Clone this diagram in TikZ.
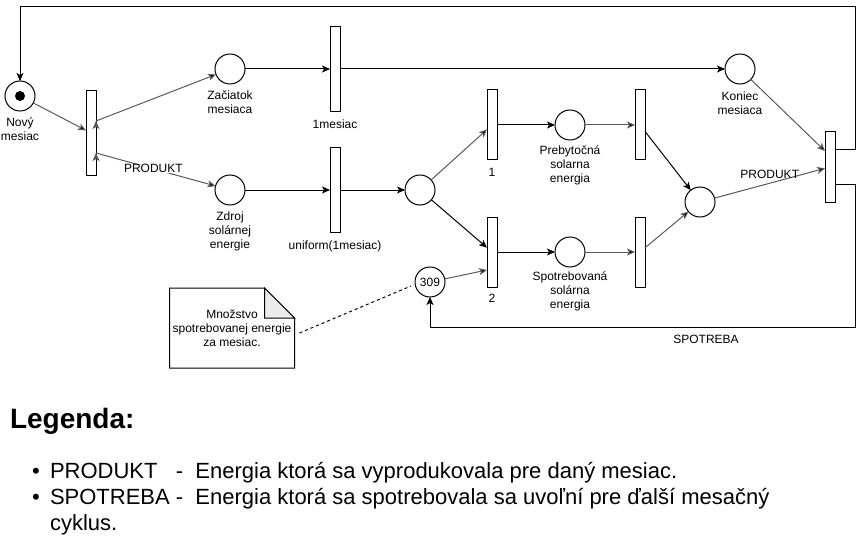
\documentclass[tikz,border=0pt]{standalone}
\usepackage{fontspec}
\setmainfont{Liberation Sans}
\usetikzlibrary{positioning,arrows.meta}

\begin{document}
\begin{tikzpicture}
[x=1pt,y=-1pt,
 every node/.style={font=\fontsize{12}{14}\selectfont,inner sep=0pt,outer sep=0pt},
 place/.style={circle,draw=black,minimum size=30pt},
 trans/.style={rectangle,draw=black,minimum width=10pt,minimum height=70pt},
 tall/.style={trans,minimum height=85pt},
 lbl/.style={align=center},
 arc/.style={-{Stealth[length=8pt,width=7pt,inset=2pt]}},
 garc/.style={arc,draw=black!65},
 big/.style={font=\fontsize{22}{26}\selectfont},
 line width=1pt]
\useasboundingbox (0,0) rectangle (865,559);

\node[place] (novy) at (20,96) {};
\node[circle,fill=black,minimum size=10pt] (tok) at (novy) {};
\node[lbl] (novyL)  [below=7pt of novy] {Nový\\mesiac};
\node[tall]  (tstart) [on grid,below right=37pt and 71pt of novy] {};
\node[place] (zac)    [on grid,above right=64pt and 139pt of tstart] {};
\node[lbl]   (zacL)   [below=7pt of zac] {Začiatok\\mesiaca};
\node[place] (zdroj)  [on grid,below right=57pt and 139pt of tstart] {};
\node[lbl]   (zdrojL) [below=7pt of zdroj] {Zdroj\\solárnej\\energie};
\node[tall]  (tmes)   [on grid,right=105pt of zac] {};
\node[lbl]   (tmesL)  [below=8pt of tmes] {1mesiac};
\node[tall]  (tuni)   [on grid,right=105pt of zdroj] {};
\node[lbl]   (tuniL)  [below=8pt of tuni] {uniform(1mesiac)};
\node[place] (kon)    [on grid,right=405pt of tmes] {};
\node[lbl]   (konL)   [below=8pt of kon] {Koniec\\mesiaca};
\node[place] (mid)    [on grid,right=85pt of tuni] {};
\node[trans] (ta)     [on grid,above right=65pt and 72pt of mid] {};
\node[lbl]   (taL)    [below=8pt of ta] {1};
\node[trans] (tb)     [on grid,below right=62pt and 72pt of mid] {};
\node[lbl]   (tbL)    [below=7pt of tb] {2};
\node[place] (preb)   [on grid,right=78pt of ta] {};
\node[lbl]   (prebL)  [below=6pt of preb] {Prebytočná\\solarna\\energia};
\node[place] (spot)   [on grid,right=78pt of tb] {};
\node[lbl]   (spotL)  [below=5pt of spot] {Spotrebovaná\\solárna\\energia};
\node[trans] (tc)     [on grid,right=70pt of preb] {};
\node[trans] (td)     [on grid,right=70pt of spot] {};
\node[place] (join)   [on grid,below right=77pt and 60pt of tc] {};
\node[trans] (tend)   [on grid,above right=35pt and 130pt of join] {};
\node[place] (p309)   [on grid,below right=92pt and 10pt of mid] {309};
\node[lbl,minimum width=125pt,minimum height=80pt] (note) [on grid,below left=46pt and 198pt of p309]
  {Množstvo\\spotrebovanej energie\\za mesiac.};

% note outline with folded corner
\draw (note.south west) -- (note.north west) -- ([xshift=-30pt]note.north east)
  -- ([yshift=-30pt]note.north east) -- (note.south east) -- cycle;
\filldraw[fill=black!8] ([xshift=-30pt]note.north east) -- ([xshift=-30pt,yshift=-30pt]note.north east)
  -- ([yshift=-30pt]note.north east) -- cycle;
\draw[dashed] ([xshift=5pt,yshift=-5pt]note.east) -- ([xshift=-4pt,yshift=-4pt]p309.west);

\path[garc] (novy) edge (tstart);
\path[garc] ([yshift=12pt]tstart.east) edge (zac);
\path[garc] ([yshift=-20pt]tstart.east) edge node[pos=0.48,fill=white] (prodA) {PRODUKT} (zdroj);
\path[arc]  (zac) edge (tmes);
\path[arc]  (tmes) edge (kon);
\path[arc]  (zdroj) edge (tuni);
\path[arc]  (tuni) edge (mid);
\path[garc] (mid) edge (ta);
\path[arc]  (mid) edge (tb);
\path[arc]  (ta) edge (preb);
\path[garc] (preb) edge (tc);
\path[arc]  (tc) edge (join);
\path[arc]  (tb) edge (spot);
\path[garc] (spot) edge (td);
\path[garc] (td) edge (join);
\path[garc] (join) edge node[above=5pt,text=black] (prodB) {PRODUKT} (tend);
\path[garc] (kon) edge ([yshift=16pt]tend.west);
\path[garc] (p309) edge ([yshift=-18pt]tb.west);

\coordinate (ctop) at (855,7);
\coordinate (cbot) at (855,327);
\draw[arc] ([yshift=17pt]tend.east) -| (ctop) -| (novy);
\draw[arc] ([yshift=-17pt]tend.east) -| (cbot) -| (p309);
\node (spotreba) at (706,339) {SPOTREBA};

% legenda
\node[anchor=base west,font=\fontsize{28}{32}\selectfont\bfseries] (leg) at (10,428) {Legenda:};
\node[big,anchor=base] (b1) at (36,478) {\textbullet};
\node[big,anchor=base west] (item1) at (50,478) {PRODUKT~~~-~~Energia ktorá sa vyprodukovala pre daný mesiac.};
\node[big,anchor=base] (b2) at (36,504) {\textbullet};
\node[big,anchor=base west] (item2) at (50,504) {SPOTREBA -~~Energia ktorá sa spotrebovala sa uvoľní pre ďalší mesačný};
\node[big,anchor=base west] (item2b) at (50,530) {cyklus.};
\end{tikzpicture}
\end{document}
